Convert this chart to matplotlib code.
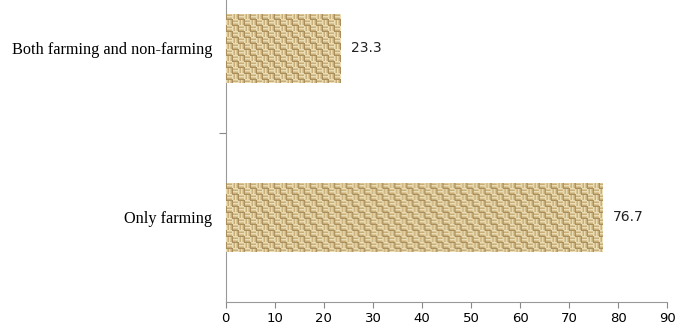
import numpy as np
import matplotlib.pyplot as plt

categories = ['Only farming', 'Both farming and non-farming']
values = [76.7, 23.3]
x_ticks = [0, 10, 20, 30, 40, 50, 60, 70, 80, 90]


def weave_texture(w, h):
    # basket-weave look, in pixel units
    yy, xx = np.mgrid[0:h, 0:w]
    block = 6
    bx = (xx // block) % 2
    by = (yy // block) % 2
    horiz = (bx ^ by) == 0
    stripe = np.where(horiz, yy % 3, xx % 3)
    base = np.array([200, 174, 120]) / 255
    light = np.array([236, 222, 182]) / 255
    mid = np.array([218, 198, 150]) / 255
    img = np.empty((h, w, 3))
    img[:] = base
    img[stripe == 0] = light
    img[stripe == 1] = mid
    edge = np.where(horiz, xx % block == 0, yy % block == 0)
    img[edge] = np.array([170, 142, 92]) / 255
    return img


fig = plt.figure(figsize=(6.76, 3.27), dpi=100)
ax = fig.add_axes([0.334, 0.0765, 0.653, 1.034])

ypos = np.arange(len(categories))
bars = ax.barh(ypos, values, height=0.41, color='#d6be8c', edgecolor='none')

ax.set_xlim(0, 90)
ax.set_ylim(-0.5, 1.5)

for bar in bars:
    x0, y0 = bar.get_x(), bar.get_y()
    w, h = bar.get_width(), bar.get_height()
    tex = weave_texture(int(w * 4.9) + 1, 70)
    im = ax.imshow(tex, extent=[x0, x0 + w, y0, y0 + h], aspect='auto',
                   interpolation='bilinear', zorder=3)
    im.set_clip_path(bar)

for y, v in zip(ypos, values):
    ax.text(v + 2.2, y, f'{v}', va='center', ha='left', fontsize=10,
            family='DejaVu Sans', color='#222222')

ax.set_xticks(x_ticks)
ax.set_xticklabels([str(t) for t in x_ticks], family='DejaVu Sans', fontsize=9.5)
ax.set_yticks([0.5])
ax.set_yticklabels([])
ax.set_yticks(ypos, minor=True)
ax.set_yticklabels(categories, minor=True, family='Liberation Serif', fontsize=11.7)
ax.tick_params(axis='y', which='minor', length=0, pad=10)
ax.tick_params(axis='y', which='major', length=5, color='#888888')
ax.tick_params(axis='x', length=4, color='#888888', pad=3)

for s in ['top', 'right']:
    ax.spines[s].set_visible(False)
for s in ['left', 'bottom']:
    ax.spines[s].set_color('#999999')

fig.savefig('out.png', dpi=100)
